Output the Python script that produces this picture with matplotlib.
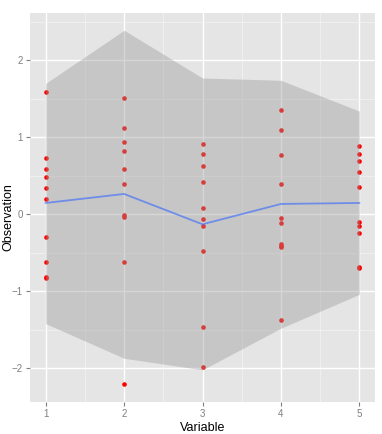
import matplotlib.pyplot as plt

x1 = [1.59, 0.735, 0.584, 0.488, 0.338, 0.195, -0.299, -0.623, -0.81, -0.827]
x2 = [1.515, 1.126, 0.944, 0.827, 0.593, 0.390, -0.009, -0.030, -0.623, -2.203]
x3 = [0.918, 0.788, 0.623, 0.424, 0.078, -0.056, -0.156, -0.481, -1.463, -1.983]
x4 = [1.359, 1.100, 0.766, 0.390, -0.052, -0.108, -0.390, -0.420, -0.410, -1.372]
x5 = [0.883, 0.779, 0.697, 0.554, 0.359, -0.100, -0.152, -0.247, -0.680, -0.697]
observations = [x1, x2, x3, x4, x5]
variables = [1, 2, 3, 4, 5]

# summary line and band
mean_line = [0.147, 0.264, -0.13, 0.134, 0.147]
band_upper = [1.70, 2.39, 1.77, 1.74, 1.34]
band_lower = [-1.42, -1.87, -2.02, -1.48, -1.04]

plt.rcParams['font.family'] = ['Liberation Sans', 'DejaVu Sans']

fig = plt.figure(figsize=(3.82, 4.34), dpi=100)
ax = fig.add_axes([30 / 382, 32 / 434, 345 / 382, 389 / 434])
ax.set_facecolor('#e5e5e5')

for v, obs in zip(variables, observations):
    ax.scatter([v] * len(obs), obs, s=11, color='red', linewidths=0, zorder=3)

ax.fill_between(variables, band_lower, band_upper, color='#999999', alpha=0.4,
                linewidth=0, zorder=4)
ax.plot(variables, mean_line, color='#3366ff', alpha=0.6, linewidth=1.3, zorder=5)

ax.set_xlim(0.8, 5.2)
ax.set_ylim(-2.438, 2.614)
ax.set_xticks(variables)
ax.set_yticks([-2, -1, 0, 1, 2])
ax.set_xticks([1.5, 2.5, 3.5, 4.5], minor=True)
ax.set_yticks([-1.5, -0.5, 0.5, 1.5, 2.5], minor=True)
ax.grid(which='major', color='white', linewidth=1.0, zorder=1)
ax.grid(which='minor', color='#f2f2f2', linewidth=0.6, zorder=1)
ax.set_axisbelow(True)
for s in ax.spines.values():
    s.set_visible(False)
ax.tick_params(which='major', length=3, width=0.8, color='#7f7f7f',
               labelcolor='#7f7f7f', labelsize=7, pad=2)
ax.tick_params(which='minor', length=0)

ax.set_xlabel('Variable', fontsize=9, labelpad=2)
ax.set_ylabel('Observation', fontsize=9, va='center')
ax.yaxis.set_label_coords(8 / 382, 0.5, transform=fig.transFigure)
ax.yaxis.label.set_va('center')

fig.savefig('out.png', dpi=100)
